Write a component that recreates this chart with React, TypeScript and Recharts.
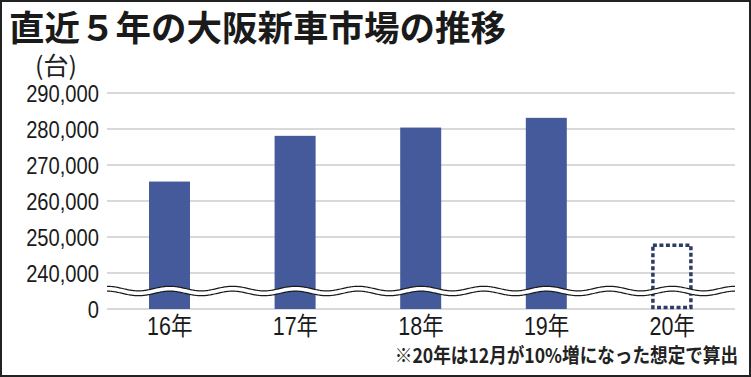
import { BarChart, Bar, XAxis, YAxis, CartesianGrid, ReferenceLine, Cell } from 'recharts';

const years = ['16年', '17年', '18年', '19年', '20年'];
const sales = [265400, 278100, 280400, 283100, 248100];
const estimated = [false, false, false, false, true];
const yTicks = [230000, 240000, 250000, 260000, 270000, 280000, 290000];
// 230,000 sits where the broken axis shows "0"
const AXIS_BREAK = 230000;
const BREAK_MARK = 235000;

const data = years.map((y, i) => ({ year: y, value: sales[i], est: estimated[i] }));

const W = 751;
const H = 377;
const BLUE = '#455a9b';
const NAVY = '#2d3b66';
const SANS = '"Liberation Sans", Arial, "Noto Sans CJK JP", sans-serif';
const JP = '"Noto Sans CJK JP", "Noto Sans", sans-serif';

const BarShape = (p: any) => {
  const { x, y, width, height, payload } = p;
  if (payload.est) {
    return (
      <rect x={x + 1.5} y={y + 1.5} width={width - 3} height={height - 3} fill="none"
        stroke={NAVY} strokeWidth={3.5} strokeDasharray="4 2.5" />
    );
  }
  return <rect x={x} y={y} width={width} height={height} fill={BLUE} />;
};

const Wave = (p: any) => {
  const { x1, x2, y1 } = p;
  if (x1 == null) return null;
  const period = (x2 - x1) / 10;
  const amp = 2.3;
  let d = '';
  for (let x = x1; x <= x2 + 0.01; x += 1) {
    const yy = y1 - amp * Math.cos((2 * Math.PI * (x - x1)) / period);
    d += (d ? 'L' : 'M') + x.toFixed(1) + ',' + yy.toFixed(2);
  }
  return (
    <g>
      <path d={d} fill="none" stroke="#1a1a1a" strokeWidth={6} />
      <path d={d} fill="none" stroke="#ffffff" strokeWidth={3.6} />
    </g>
  );
};

const YTick = (p: any) => {
  const { x, y, payload } = p;
  const v = payload.value as number;
  const label = v === AXIS_BREAK ? '0' : v.toLocaleString('en-US');
  return (
    <text transform={`translate(${x},${y + 8.5}) scale(0.84,1)`} textAnchor="end" fill="#1a1a1a"
      fontSize={24} fontFamily={SANS}>{label}</text>
  );
};

const XTick = (p: any) => {
  const { x, y, payload } = p;
  return (
    <text transform={`translate(${x},${y + 18}) scale(0.86,1)`} textAnchor="middle" fill="#1a1a1a"
      fontSize={25} fontFamily={SANS}>{payload.value}</text>
  );
};

export default function App() {
  return (
    <div style={{ position: 'absolute', left: 0, top: 0, width: W, height: H, background: '#fff', boxSizing: 'border-box', border: '2px solid #222', overflow: 'hidden' }}>
      <div style={{ position: 'absolute', left: 0, top: 0 }}>
        <BarChart width={W - 4} height={H - 4} data={data} margin={{ top: 91, right: 14, bottom: 0, left: 0 }} barSize={41}>
          <CartesianGrid vertical={false} stroke="#b4b4b4" strokeWidth={1.1} />
          <XAxis dataKey="year" axisLine={false} tickLine={false} height={66} interval={0} tick={<XTick />} />
          <YAxis type="number" domain={[AXIS_BREAK, 290000]} ticks={yTicks} axisLine={false} tickLine={false}
            width={105} interval={0} tick={<YTick />} />
          <Bar dataKey="value" isAnimationActive={false} shape={BarShape}>
            {data.map((d, i) => <Cell key={i} fill={d.est ? 'none' : BLUE} />)}
          </Bar>
          <ReferenceLine y={BREAK_MARK} ifOverflow="extendDomain" shape={Wave} />
        </BarChart>
      </div>
      <div style={{ position: 'absolute', left: 7, top: 5.5, fontFamily: JP, fontWeight: 700, fontSize: 35.5, lineHeight: 1, color: '#1a1a1a', whiteSpace: 'nowrap' }}>
        直近５年の大阪新車市場の推移
      </div>
      <div style={{ position: 'absolute', left: 33, top: 50, fontFamily: JP, fontSize: 25, lineHeight: 1, color: '#222' }}>
        (台)
      </div>
      <div style={{ position: 'absolute', right: 11, top: 343, fontFamily: JP, fontWeight: 700, fontSize: 20, lineHeight: 1, color: '#222', whiteSpace: 'nowrap', transform: 'scaleX(0.88)', transformOrigin: 'right center' }}>
        ※20年は12月が10%増になった想定で算出
      </div>
    </div>
  );
}
